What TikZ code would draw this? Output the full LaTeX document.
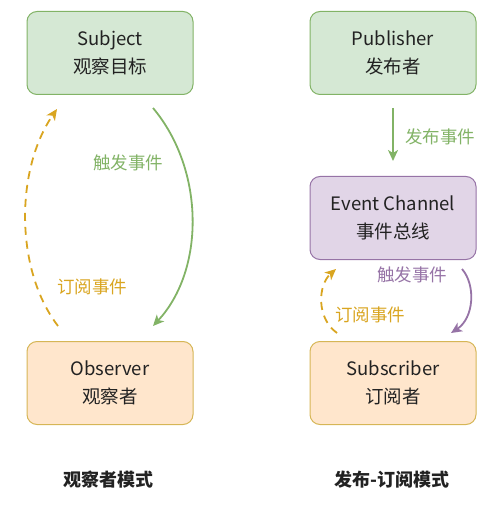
\documentclass[tikz,border=0pt]{standalone}
\usepackage{fontspec}
\setmainfont{Noto Sans CJK SC}
\usepackage{tikz}
\usetikzlibrary{arrows.meta,shapes,positioning,calc}
\usepackage{xcolor}
\definecolor{pgreen}{HTML}{D5E8D4}
\definecolor{pgreenline}{HTML}{82B366}
\definecolor{ppurple}{HTML}{E1D5E7}
\definecolor{ppurpleline}{HTML}{9673A6}
\definecolor{porange}{HTML}{FFE6CC}
\definecolor{porangeline}{HTML}{D6B656}
\definecolor{pgold}{HTML}{D9A520}
\definecolor{ptext}{HTML}{222222}
\tikzstyle{patbox} = [rectangle, rounded corners=10pt, minimum width=166pt, minimum height=83pt, align=center, line width=1pt, font=\fontsize{18.5}{28}\selectfont, text=ptext]
\tikzstyle{evarrow} = [line width=1.8pt,-{Stealth[length=11pt,width=10pt,inset=3pt]}]
\tikzstyle{subarrow} = [line width=1.8pt,-{Stealth[length=11pt,width=10pt,inset=3pt]},dash pattern=on 8pt off 6pt,color=pgold]
\tikzstyle{evlabel} = [font=\fontsize{17.5}{17.5}\selectfont]

\begin{document}
\begin{tikzpicture}[x=1pt, y=-1pt]
\useasboundingbox (0,0) rectangle (500,510);

% Observer pattern
\node[patbox, draw=pgreenline, fill=pgreen] (subject) at (110, 53) {Subject\\观察目标};
\node[patbox, draw=porangeline, fill=porange] (observer) at (110, 383) {Observer\\观察者};
\node[font=\bfseries\fontsize{18}{18}\selectfont, text=ptext] (obscap) at (108, 480) {观察者模式};

\coordinate (obsout) at ($(subject.south)+(43,13)$);
\coordinate (obsin) at ($(observer.north)+(43,-15)$);
\draw[evarrow, pgreenline] (obsout) .. controls (205,170) and (205,270) .. (obsin);
\node[evlabel, text=pgreenline] (obsfire) at (128, 163) {触发事件};

\coordinate (subout) at ($(observer.north)+(-52,-15)$);
\coordinate (subin) at ($(subject.south)+(-53,14)$);
\draw[subarrow] (subout) .. controls (15,270) and (15,170) .. (subin);
\node[evlabel, text=pgold] (obssub) at (92, 287) {订阅事件};

% Publish-subscribe pattern
\node[patbox, draw=pgreenline, fill=pgreen] (publisher) at (393, 53) {Publisher\\发布者};
\node[patbox, draw=ppurpleline, fill=ppurple] (channel) at (393, 218) {Event Channel\\事件总线};
\node[patbox, draw=porangeline, fill=porange] (subscriber) at (393, 383) {Subscriber\\订阅者};
\node[font=\bfseries\fontsize{18}{18}\selectfont, text=ptext] (pubcap) at (392, 480) {发布-订阅模式};

\draw[evarrow, pgreenline, shorten <=13pt, shorten >=15pt] (publisher) -- (channel);
\node[evlabel, text=pgreenline] (pubsend) at (440, 137) {发布事件};

\coordinate (chout) at ($(channel.south)+(69,9)$);
\coordinate (chin) at ($(subscriber.north)+(58,-8)$);
\draw[evarrow, ppurpleline] (chout) .. controls (476,285) and (474,318) .. (chin);
\node[evlabel, text=ppurpleline] (pubfire) at (412, 275) {触发事件};

\coordinate (csout) at ($(subscriber.north)+(-56,-8)$);
\coordinate (csin) at ($(channel.south)+(-57,9)$);
\draw[subarrow] (csout) .. controls (316,318) and (318,285) .. (csin);
\node[evlabel, text=pgold] (pubsub) at (370, 315) {订阅事件};
\end{tikzpicture}
\end{document}
